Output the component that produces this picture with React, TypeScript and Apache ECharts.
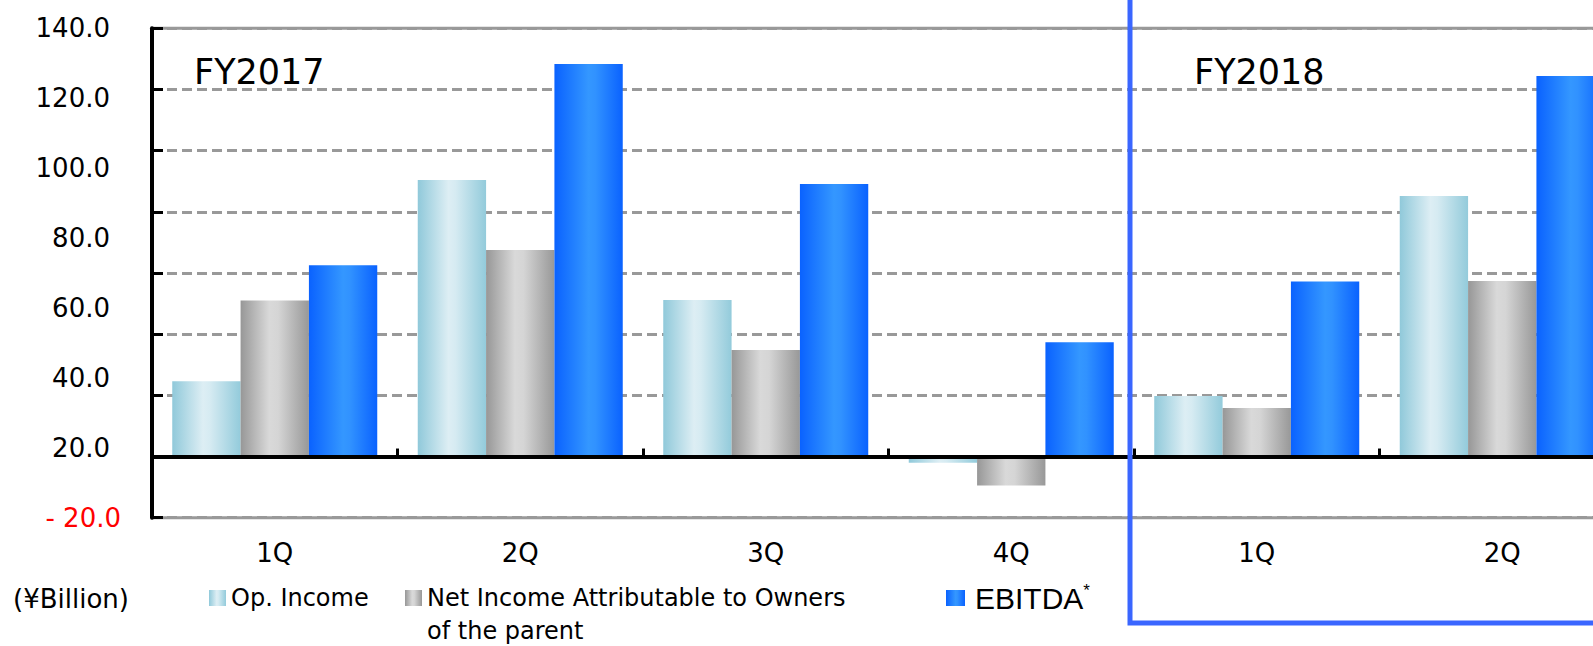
import { useEffect, useRef } from 'react';
import * as echarts from 'echarts';

// Quarterly results, ¥ billion
const fiscalYears = ['FY2017', 'FY2017', 'FY2017', 'FY2017', 'FY2018', 'FY2018'];
const quarters = ['1Q', '2Q', '3Q', '4Q', '1Q', '2Q'];
const opIncome = [24.6, 90.4, 51.2, -2.0, 19.8, 85.2];
const netIncome = [51.0, 67.5, 34.8, -9.5, 15.9, 57.4];
const ebitda = [62.5, 128.3, 89.1, 37.4, 57.2, 124.4];
const seriesNames = ['Op. Income', 'Net Income Attributable to Owners of the parent', 'EBITDA'];
// printed value-axis labels, bottom to top
const yTickLabels = ['- 20.0', '20.0', '40.0', '60.0', '80.0', '100.0', '120.0', '140.0'];
const periodTitles = ['FY2017', 'FY2018'];
const unitLabel = '(¥Billion)';

const categoryKeys = quarters.map((q, i) => `${fiscalYears[i]} ${q}`);

const hGradient = (stops: [number, string][]) => ({
  type: 'linear',
  x: 0,
  y: 0,
  x2: 1,
  y2: 0,
  colorStops: stops.map(([offset, color]) => ({ offset, color })),
});

const barFills = [
  hGradient([[0, '#90c9da'], [0.45, '#ddeef4'], [0.55, '#d6ebf2'], [1, '#93cbdb']]),
  hGradient([[0, '#979797'], [0.42, '#d9d9d9'], [0.55, '#d5d5d5'], [1, '#989898']]),
  hGradient([[0, '#0a62ff'], [0.5, '#3497ff'], [0.6, '#3192ff'], [1, '#0a62ff']]),
];

const seriesValues = [opIncome, netIncome, ebitda];

export default function App() {
  const ref = useRef<HTMLDivElement>(null);

  useEffect(() => {
    if (!ref.current) return;
    const chart = echarts.init(ref.current, undefined, { renderer: 'svg' });

    const labelFont = 'DejaVu Sans';
    const legendText = { fontFamily: labelFont, fontSize: 24, lineHeight: 33, color: '#000' };

    chart.setOption({
      animation: false,
      backgroundColor: '#ffffff',
      grid: {
        left: 152,
        right: -32,
        top: 28.3,
        bottom: 128.3,
        show: true,
        borderColor: '#999999',
        borderWidth: 3,
        backgroundColor: 'transparent',
        containLabel: false,
        outerBoundsMode: 'none',
      },
      legend: [
        {
          data: [seriesNames[0]],
          left: 209,
          top: 598 - 16.5,
          padding: 0,
          itemWidth: 17,
          itemHeight: 16,
          icon: 'rect',
          selectedMode: false,
          textStyle: legendText,
        },
        {
          // first line sits beside the swatch, the wrapped part runs below it
          data: [seriesNames[1]],
          left: 405,
          top: 598 - 49.5,
          padding: 0,
          itemWidth: 17,
          itemHeight: 16,
          icon: 'rect',
          selectedMode: false,
          formatter: (name: string) => '\n' + name.replace(' of the parent', '\nof the parent'),
          textStyle: legendText,
        },
        {
          data: [seriesNames[2]],
          left: 946,
          top: 598 - 16.5,
          padding: 0,
          itemWidth: 19,
          itemHeight: 16,
          icon: 'rect',
          selectedMode: false,
          formatter: (name: string) => `${name}{sup|*}`,
          textStyle: {
            fontFamily: 'Liberation Sans',
            fontSize: 30,
            lineHeight: 33,
            color: '#000',
            padding: [0, 0, 0, 5],
            rich: {
              sup: {
                fontFamily: 'Liberation Sans',
                fontSize: 17,
                lineHeight: 20,
                verticalAlign: 'top',
                color: '#000',
              },
            },
          },
        },
      ],
      xAxis: [
        {
          type: 'category',
          data: categoryKeys,
          position: 'bottom',
          z: 3,
          axisLine: { show: true, onZero: true, lineStyle: { color: '#000', width: 4 } },
          axisTick: { show: true, inside: true, length: 8, lineStyle: { color: '#000', width: 3 } },
          axisLabel: { show: false },
          splitLine: { show: false },
        },
        {
          type: 'category',
          data: categoryKeys,
          position: 'bottom',
          axisLine: { show: false, onZero: false },
          axisTick: { show: false },
          splitLine: { show: false },
          axisLabel: {
            interval: 0,
            margin: 22,
            fontFamily: labelFont,
            fontSize: 26,
            color: '#000',
            formatter: (_v: string, idx: number) => quarters[idx],
          },
        },
      ],
      yAxis: [
        {
          type: 'value',
          position: 'left',
          min: -20,
          max: 140,
          interval: 20,
          axisLine: { show: true, lineStyle: { color: '#000', width: 4 } },
          axisTick: { show: true, inside: true, length: 11, lineStyle: { color: '#000', width: 3 } },
          axisLabel: { show: false },
          splitLine: {
            show: true,
            lineStyle: { color: '#999999', width: 3, type: [10, 5] },
          },
        },
        {
          type: 'value',
          position: 'left',
          min: 0,
          max: 140,
          interval: 20,
          axisLine: { show: false },
          axisTick: { show: false },
          splitLine: { show: false },
          axisLabel: {
            margin: 42,
            fontFamily: labelFont,
            fontSize: 26,
            color: '#000',
            formatter: (v: number) => (v === 0 ? '' : yTickLabels[Math.round(v / 20)]),
          },
        },
        {
          type: 'value',
          position: 'left',
          min: 0,
          max: 140,
          interval: 20,
          axisLine: { show: false },
          axisTick: { show: false },
          splitLine: { show: false },
          axisLabel: {
            margin: 31,
            fontFamily: labelFont,
            fontSize: 26,
            color: '#ff0000',
            formatter: (v: number) => (v === 0 ? yTickLabels[0] : ''),
          },
        },
      ],
      series: seriesNames.map((name, i) => ({
        name,
        type: 'bar',
        xAxisIndex: 0,
        yAxisIndex: 0,
        barGap: '0%',
        barCategoryGap: '16.5%',
        itemStyle: { color: barFills[i] },
        emphasis: { disabled: true },
        data: seriesValues[i],
      })),
      graphic: [
        {
          type: 'text',
          x: 194,
          y: 72,
          style: {
            text: periodTitles[0],
            font: `35px "${labelFont}"`,
            fill: '#000',
            verticalAlign: 'middle',
          },
        },
        {
          type: 'text',
          x: 1194,
          y: 72,
          style: {
            text: periodTitles[1],
            font: `35px "${labelFont}"`,
            fill: '#000',
            verticalAlign: 'middle',
          },
        },
        {
          type: 'text',
          x: 13,
          y: 599,
          style: {
            text: unitLabel,
            font: `26px "${labelFont}"`,
            fill: '#000',
            verticalAlign: 'middle',
          },
        },
        {
          type: 'rect',
          z: 100,
          shape: { x: 1130, y: -10, width: 600, height: 633 },
          style: { fill: 'none', stroke: '#3a66ff', lineWidth: 5 },
        },
      ],
    });

    return () => chart.dispose();
  }, []);

  return (
    <div
      ref={ref}
      style={{ position: 'fixed', left: 0, top: 0, width: 1593, height: 646, background: '#fff' }}
    />
  );
}
